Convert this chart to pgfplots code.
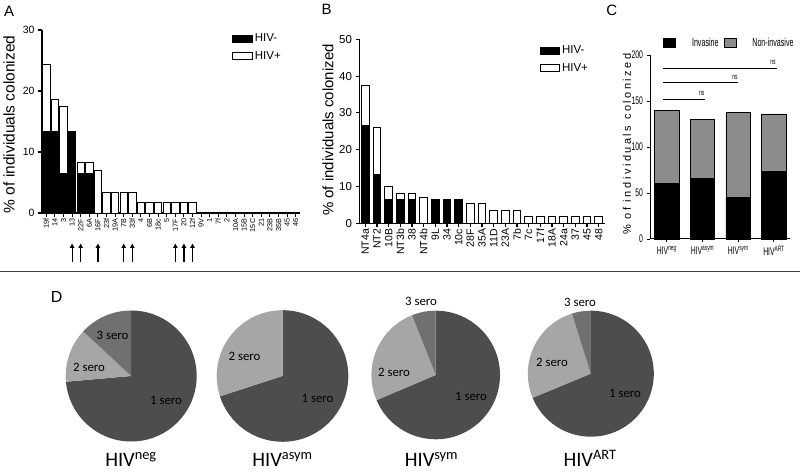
\documentclass[border=0pt]{standalone}
\usepackage{pgfplots}
\usepackage{pgfplotstable}
\pgfplotsset{compat=1.18}
\usepackage{fontspec}
\setmainfont{Liberation Sans}
\newfontfamily\narrowf[FakeStretch=0.62]{Liberation Sans}
\newfontfamily\spacedf[LetterSpace=23]{Liberation Sans}
\newfontfamily\calib{Carlito}
\usetikzlibrary{arrows.meta}
\definecolor{seroA}{RGB}{77,77,77}
\definecolor{seroB}{RGB}{166,166,166}
\definecolor{seroC}{RGB}{112,112,112}
\definecolor{nongray}{RGB}{140,140,140}
\newcommand{\fs}[1]{\fontsize{#1bp}{#1bp}\selectfont}
% pie slice: colour, start percent, end percent, radius (bp)
\newcommand{\pieslice}[4]{%
  \fill[#1] (axis cs:0,0) -- ++({90-3.6*#2}:#4bp)
    arc[start angle={90-3.6*#2}, end angle={90-3.6*#3}, radius=#4bp] -- cycle;}

\pgfplotstableread{
x neg pos
0 13.3 11.0
1 13.3 5.4
2 6.5 10.9
3 13.3 0
4 6.5 1.8
5 6.5 1.8
6 0 7.05
7 0 3.45
8 0 3.45
9 0 3.45
10 0 3.45
11 0 1.72
12 0 1.72
13 0 1.72
14 0 1.72
15 0 1.72
16 0 1.72
17 0 1.72
18 0 0
19 0 0
20 0 0
21 0 0
22 0 0
23 0 0
24 0 0
25 0 0
26 0 0
27 0 0
28 0 0
29 0 0
}\dataA

\pgfplotstableread{
x neg pos
0 26.7 10.9
1 13.3 12.8
2 6.5 3.5
3 6.5 1.7
4 6.5 1.7
5 0 7.1
6 6.5 0
7 6.5 0
8 6.5 0
9 0 5.5
10 0 5.3
11 0 3.5
12 0 3.5
13 0 3.5
14 0 1.8
15 0 1.8
16 0 1.8
17 0 1.8
18 0 1.8
19 0 1.8
20 0 1.8
}\dataB

\pgfplotstableread{
x inv non
0 60.5 79.7
1 65.6 64.4
2 45.0 92.3
3 73.9 62.0
}\dataC

\pgfplotsset{
  gpstyle/.style={
    scale only axis, anchor=south west, clip=false,
    axis lines=left, axis line style={-, line width=1.3bp},
    tick style={line width=1.1bp, black}, major tick length=4bp, tick align=outside,
    /pgf/number format/assume math mode=true,
    legend cell align=left,
  },
}

\begin{document}
\begin{tikzpicture}[x=1bp,y=1bp]
\path[use as bounding box] (0,0) rectangle (800,472);

% ---------------- Panel A ----------------
\begin{axis}[gpstyle,
  at={(42bp,259bp)}, width=258bp, height=183bp,
  xmin=-0.5, xmax=29.5, ymin=0, ymax=30,
  ybar stacked, bar width=7.3bp,
  ytick={0,10,20,30},
  xtick={0,...,29},
  xticklabels={19f,14,3,13,22F,6A,16F,23f,19A,7B,33f,4,6B,18c,5,17F,20,12f,9V,1,7f,2,10A,15B,15C,21,23B,35B,45,46},
  x tick label style={rotate=90, anchor=east, font=\fs{7.3}, inner sep=1.5bp},
  y tick label style={font=\fs{10.5}},
  ylabel={\% of individuals colonized},
  ylabel style={font=\fs{15.5}, at={(axis description cs:-0.128,0.484)}, anchor=center},
  legend image code/.code={\draw[#1, line width=0.8bp] (0bp,-3.5bp) rectangle (20bp,3.5bp);},
  legend style={at={(0.736,0.99)}, anchor=north west, draw=none, fill=none,
    font=\fs{11.5}, row sep=4bp, inner sep=0pt,
    /tikz/every even column/.append style={column sep=4bp}},
]
\addplot[fill=black, draw=black, line width=0.8bp] table[x=x,y=neg] {\dataA};
\addplot[fill=white, draw=black, line width=0.8bp] table[x=x,y=pos] {\dataA};
\legend{HIV-,HIV+}
\pgfplotsinvokeforeach{3,4,6,9,10,15,16,17}{
  \draw[line width=1.2bp, -{Triangle[length=4.5bp,width=4.5bp]}] (axis cs:#1,-8.1) -- (axis cs:#1,-5.0);
}
\end{axis}

% ---------------- Panel B ----------------
\begin{axis}[gpstyle,
  at={(359.5bp,248.7bp)}, width=245bp, height=184bp,
  xmin=-0.5, xmax=20.5, ymin=0, ymax=50,
  ybar stacked, bar width=7.7bp,
  ytick={0,10,20,30,40,50},
  xtick={0,...,20},
  xticklabels={NT4a,NT2,10B,NT3b,38,NT4b,9L,34,10c,28F,35A,11D,23A,7b,7c,17f,18A,24a,37,45,48},
  x tick label style={rotate=90, anchor=east, font=\fs{10.5}, inner sep=1.5bp},
  y tick label style={font=\fs{11.5}},
  ylabel={\% of individuals colonized},
  ylabel style={font=\fs{15}, at={(axis description cs:-0.129,0.507)}, anchor=center},
  legend image code/.code={\draw[#1, line width=0.8bp] (0bp,-3.5bp) rectangle (19bp,3.5bp);},
  legend style={at={(0.737,0.975)}, anchor=north west, draw=none, fill=none,
    font=\fs{11.5}, row sep=4bp, inner sep=0pt,
    /tikz/every even column/.append style={column sep=4bp}},
]
\addplot[fill=black, draw=black, line width=0.8bp] table[x=x,y=neg] {\dataB};
\addplot[fill=white, draw=black, line width=0.8bp] table[x=x,y=pos] {\dataB};
\legend{HIV-,HIV+}
\end{axis}

% ---------------- Panel C ----------------
\begin{axis}[gpstyle,
  at={(650bp,233bp)}, width=140bp, height=184bp,
  axis line style={-, line width=1bp},
  tick style={line width=0.9bp, black}, major tick length=3.5bp,
  xmin=-0.47, xmax=3.45, ymin=0, ymax=200,
  ybar stacked, bar width=24.5bp,
  ytick={0,50,100,150,200},
  xtick={0,1,2,3},
  xticklabels={HIV\textsuperscript{neg},HIV\textsuperscript{asym},HIV\textsuperscript{sym},HIV\textsuperscript{ART}},
  x tick label style={font=\narrowf\fs{11}},
  y tick label style={font=\narrowf\fs{11}},
  ylabel={\% of individuals colonized},
  ylabel style={font=\spacedf\fs{11}, at={(axis description cs:-0.164,0.516)}, anchor=center},
  legend columns=2,
  legend image code/.code={\draw[#1, line width=0.8bp] (0bp,-4.5bp) rectangle (12bp,4.5bp);},
  legend style={at={(0.093,1.105)}, anchor=north west, draw=none, fill=none,
    font=\narrowf\fs{11.5}, inner sep=0pt,
    /tikz/every even column/.append style={column sep=3bp},
    /tikz/every odd column/.append style={column sep=14bp}},
]
\addplot[fill=black, draw=black, line width=0.9bp] table[x=x,y=inv] {\dataC};
\addplot[fill=nongray, draw=black, line width=0.9bp] table[x=x,y=non] {\dataC};
\legend{Invasine,Non-invasive}
\draw[line width=0.9bp] (axis cs:-0.11,151.8) -- (axis cs:1.07,151.8);
\draw[line width=0.9bp] (axis cs:-0.11,170) -- (axis cs:2.0,170);
\draw[line width=0.9bp] (axis cs:-0.11,185.5) -- (axis cs:3.08,185.5);
\node[font=\narrowf\fs{8}] at (axis cs:0.98,158.5) {ns};
\node[font=\narrowf\fs{8}] at (axis cs:1.91,176) {ns};
\node[font=\narrowf\fs{8}] at (axis cs:2.97,192) {ns};
\end{axis}

% separator
\draw[line width=1bp, black!75] (0,200) -- (800,200);

% panel letters
\node[font=\fs{15}] at (9.2,460.7) {A};
\node[font=\fs{15}] at (326.7,462.5) {B};
\node[font=\fs{15}] at (611.7,462) {C};
\node[font=\fs{16}] at (56.7,174.5) {D};

% ---------------- Panel D: pies ----------------
\begin{axis}[at={(131.2bp,96bp)}, anchor=center, scale only axis, width=131bp, height=131bp,
  hide axis, xmin=-1, xmax=1, ymin=-1, ymax=1, clip=false]
\pieslice{seroA}{0}{73.6}{65.5}
\pieslice{seroB}{73.6}{86.9}{65.5}
\pieslice{seroC}{86.9}{100}{65.5}
\end{axis}
\begin{axis}[at={(282.5bp,96bp)}, anchor=center, scale only axis, width=131.6bp, height=131.6bp,
  hide axis, xmin=-1, xmax=1, ymin=-1, ymax=1, clip=false]
\pieslice{seroA}{0}{70}{65.8}
\pieslice{seroB}{70}{100}{65.8}
\end{axis}
\begin{axis}[at={(435.7bp,97bp)}, anchor=center, scale only axis, width=128.6bp, height=128.6bp,
  hide axis, xmin=-1, xmax=1, ymin=-1, ymax=1, clip=false]
\pieslice{seroA}{0}{68.6}{64.3}
\pieslice{seroB}{68.6}{94}{64.3}
\pieslice{seroC}{94}{100}{64.3}
\end{axis}
\begin{axis}[at={(590.8bp,98.3bp)}, anchor=center, scale only axis, width=126bp, height=126bp,
  hide axis, xmin=-1, xmax=1, ymin=-1, ymax=1, clip=false]
\pieslice{seroA}{0}{68.75}{63}
\pieslice{seroB}{68.75}{95.15}{63}
\pieslice{seroC}{95.15}{100}{63}
\end{axis}

\begin{scope}[every node/.style={font=\calib\fs{12.8}}]
\node at (112.5,137) {3 sero};
\node at (89,104.3) {2 sero};
\node at (166,72) {1 sero};
\node at (244.5,115.3) {2 sero};
\node at (317.5,74) {1 sero};
\node at (421,170.3) {3 sero};
\node at (394,100) {2 sero};
\node at (471,76) {1 sero};
\node at (580,170) {3 sero};
\node at (552,110) {2 sero};
\node at (625,79) {1 sero};
\end{scope}

\begin{scope}[every node/.style={font=\calib\fs{20.5}, anchor=base, inner sep=1bp}]
\node at (131,5) {HIV\textsuperscript{neg}};
\node at (282.5,5) {HIV\textsuperscript{asym}};
\node at (431.5,5) {HIV\textsuperscript{sym}};
\node at (590,5) {HIV\textsuperscript{ART}};
\end{scope}
\end{tikzpicture}
\end{document}
